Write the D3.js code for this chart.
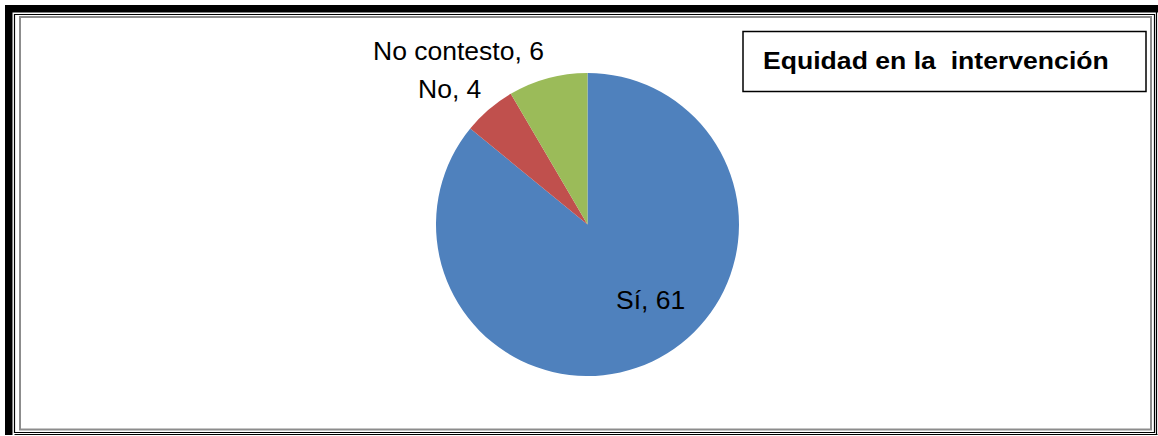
<!DOCTYPE html>
<html><head><meta charset="utf-8">
<script src="https://cdn.jsdelivr.net/npm/d3@7"></script>
<style>
html,body{margin:0;padding:0;background:#fff;}
svg{display:block;}
text{font-family:"Liberation Sans",Arial,sans-serif;}
</style></head>
<body>
<svg id="c" width="1158" height="436"></svg>
<script>
const categories = ["Sí", "No", "No contesto"];
const values = [61, 4, 6];
const colors = ["#4F81BD", "#C0504D", "#9BBB59"];
const title = "Equidad en la  intervención";

const svg = d3.select("#c");

// page border (thick-thin style)
svg.append("rect").attr("x",5).attr("y",5).attr("width",1153).attr("height",7.5).attr("fill","#000");
svg.append("rect").attr("x",5).attr("y",5).attr("width",7.5).attr("height",430).attr("fill","#000");
svg.append("path").attr("d","M14.5,14.5H1154.5V432.5H14.5Z").attr("fill","none").attr("stroke","#000").attr("stroke-width",1.2);
svg.append("path").attr("d","M14.5,434.5H1157.5M1156.5,12V435").attr("fill","none").attr("stroke","#000").attr("stroke-width",1.2);
// chart area border
svg.append("rect").attr("x",20).attr("y",17).attr("width",1131).attr("height",412.5)
  .attr("fill","#fff").attr("stroke","#8c8c8c").attr("stroke-width",2);

// pie
const cx = 587.5, cy = 224.5, r = 151.5;
const pie = d3.pie().sort(null).value(d => d)(values);
const arc = d3.arc().innerRadius(0).outerRadius(r);
const g = svg.append("g").attr("transform",`translate(${cx},${cy})`);
g.selectAll("path").data(pie).join("path")
  .attr("d", arc).attr("fill", (d,i) => colors[i]);

// labels (layout positions)
const labelPos = [[616,308.5],[418,97.5],[373,60]];
svg.selectAll("text.lbl").data(pie).join("text").attr("class","lbl")
  .attr("x",(d,i)=>labelPos[i][0]).attr("y",(d,i)=>labelPos[i][1])
  .attr("font-size",26.5).attr("fill","#000")
  .text((d,i)=>`${categories[i]}, ${values[i]}`);

// title box
svg.append("rect").attr("x",743).attr("y",31.5).attr("width",403).attr("height",60)
  .attr("fill","#fff").attr("stroke","#000").attr("stroke-width",1.5);
svg.append("text").attr("transform","translate(763,68.5) scale(1.086,1)")
  .attr("font-size",24.5).attr("font-weight","bold").style("white-space","pre")
  .text(title);
</script>
</body></html>
